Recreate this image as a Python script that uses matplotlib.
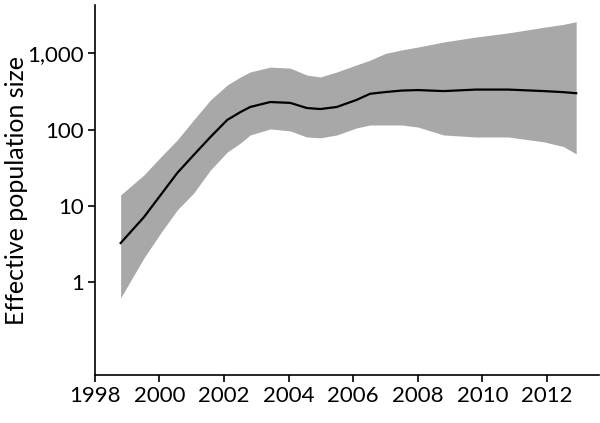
import matplotlib.pyplot as plt
from matplotlib.ticker import FixedLocator, FuncFormatter

plt.rcParams['font.family'] = ['Lato', 'DejaVu Sans']

# Effective population size (median and 95% HPD band)
years = [1998.8, 1999.52, 2000.04, 2000.55, 2001.06, 2001.58, 2002.1, 2002.51,
         2002.81, 2003.43, 2004.05, 2004.56, 2004.98, 2005.49, 2006.1, 2006.52,
         2007.0, 2007.5, 2008.0, 2008.8, 2009.8, 2010.8, 2011.9, 2012.5, 2012.9]
median = [3.25, 7.1, 13.9, 26.9, 46.4, 80, 134, 170,
          198, 230, 224, 192, 186, 198, 245, 295,
          311, 325, 330, 320, 335, 335, 320, 310, 300]
upper = [13.9, 25.4, 43.7, 73, 134, 245, 385, 490,
         570, 660, 640, 520, 490, 570, 705, 815,
         1000, 1110, 1210, 1410, 1640, 1855, 2200, 2400, 2600]
lower = [0.62, 2.07, 4.4, 8.8, 14.7, 29.5, 50.8, 66.7,
         85, 102, 96, 80, 78, 85, 105, 115,
         115, 115, 108, 85, 80, 80, 69, 60, 48]

xticks = [1998, 2000, 2002, 2004, 2006, 2008, 2010, 2012]
yticks = [1, 10, 100, 1000]

fig = plt.figure(figsize=(6, 4.23), dpi=100)
ax = fig.add_axes([0.158, 0.113, 0.84, 0.875])

ax.fill_between(years, lower, upper, color='#a8a8a8', linewidth=0)
ax.plot(years, median, color='black', linewidth=1.6)

ax.set_yscale('log')
ax.set_ylim(0.06, 4300)
ax.set_xlim(1998, 2013.6)
ax.yaxis.set_major_locator(FixedLocator(yticks))
ax.yaxis.set_minor_locator(FixedLocator([]))
ax.yaxis.set_major_formatter(FuncFormatter(lambda v, p: f'{v:,.0f}'))
ax.set_xticks(xticks)

ax.spines['top'].set_visible(False)
ax.spines['right'].set_visible(False)
for s in ['left', 'bottom']:
    ax.spines[s].set_linewidth(1.2)
ax.tick_params(axis='both', direction='out', length=5, width=1.2, labelsize=16, pad=3)
ax.set_ylabel('Effective population size', fontsize=18, va='center')
ax.yaxis.set_label_coords(-0.155, 0.5)

plt.savefig('out.png', dpi=100)
plt.close()
